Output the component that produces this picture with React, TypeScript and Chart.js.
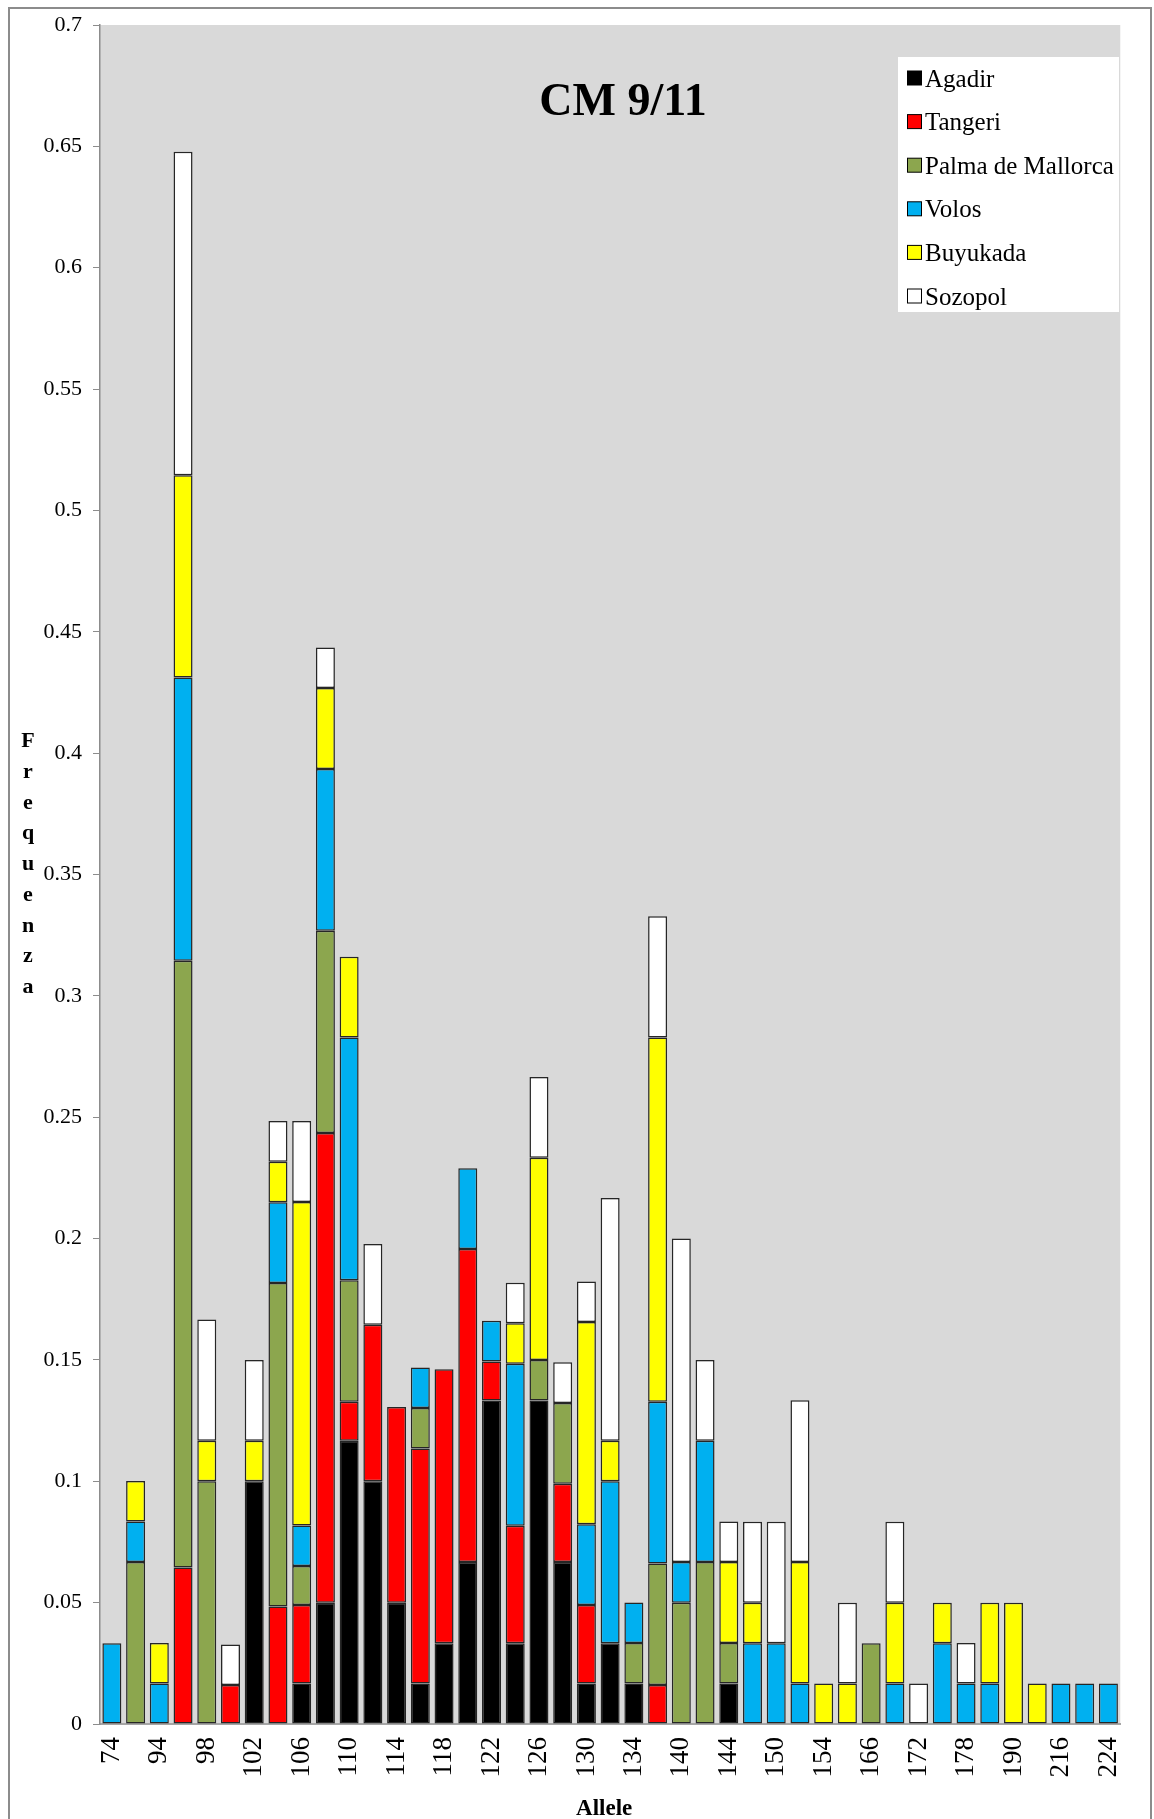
import React, { useEffect, useRef } from 'react';
import { Chart, registerables } from 'chart.js';

Chart.register(...registerables);

const n = null;

// Allele sizes (every other one is labelled on the axis)
const alleles = [
  '74', '92', '94', '96', '98', '100', '102', '104', '106', '108',
  '110', '112', '114', '116', '118', '120', '122', '124', '126', '128',
  '130', '132', '134', '138', '140', '142', '144', '148', '150', '152',
  '154', '160', '166', '170', '172', '176', '178', '186', '190', '200',
  '216', '220', '224',
];

// Allele frequency per population
const agadir = [
  n, n, n, n, n, n, 0.1, n, 0.0167, 0.05,
  0.1167, 0.1, 0.05, 0.0167, 0.0333, 0.0667, 0.1333, 0.0333, 0.1333, 0.0667,
  0.0167, 0.0333, 0.0167, n, n, n, 0.0167, n, n, n,
  n, n, n, n, n, n, n, n, n, n,
  n, n, n,
];
const tangeri = [
  n, n, n, 0.0645, n, 0.0161, n, 0.0484, 0.0323, 0.1935,
  0.0161, 0.0645, 0.0806, 0.0968, 0.1129, 0.129, 0.0161, 0.0484, n, 0.0323,
  0.0323, n, n, 0.0161, n, n, n, n, n, n,
  n, n, n, n, n, n, n, n, n, n,
  n, n, n,
];
const palma = [
  n, 0.0667, n, 0.25, 0.1, n, n, 0.1333, 0.0161, 0.0833,
  0.05, n, n, 0.0167, n, n, n, n, 0.0167, 0.0333,
  n, n, 0.0167, 0.05, 0.05, 0.0667, 0.0167, n, n, n,
  n, n, 0.0333, n, n, n, n, n, n, n,
  n, n, n,
];
const volos = [
  0.0333, 0.0167, 0.0167, 0.1167, n, n, n, 0.0333, 0.0167, 0.0667,
  0.1, n, n, 0.0167, n, 0.0333, 0.0167, 0.0667, n, n,
  0.0333, 0.0667, 0.0167, 0.0667, 0.0167, 0.05, n, 0.0333, 0.0333, 0.0167,
  n, n, n, 0.0167, n, 0.0333, 0.0167, 0.0167, n, n,
  0.0167, 0.0167, 0.0167,
];
const buyukada = [
  n, 0.0167, 0.0167, 0.0833, 0.0167, n, 0.0167, 0.0167, 0.1333, 0.0333,
  0.0333, n, n, n, n, n, n, 0.0167, 0.0833, n,
  0.0833, 0.0167, n, 0.15, n, n, 0.0333, 0.0167, n, 0.05,
  0.0167, 0.0167, n, 0.0333, n, 0.0167, n, 0.0333, 0.05, 0.0167,
  n, n, n,
];
const sozopol = [
  n, n, n, 0.1333, 0.05, 0.0167, 0.0333, 0.0167, 0.0333, 0.0167,
  n, 0.0333, n, n, n, n, n, 0.0167, 0.0333, 0.0167,
  0.0167, 0.1, n, 0.05, 0.1333, 0.0333, 0.0167, 0.0333, 0.05, 0.0667,
  n, 0.0333, n, 0.0333, 0.0167, n, 0.0167, n, n, n,
  n, n, n,
];

const populations = ['Agadir', 'Tangeri', 'Palma de Mallorca', 'Volos', 'Buyukada', 'Sozopol'];
const colors = ['#000000', '#FF0000', '#8CA64E', '#00B0F0', '#FFFF00', '#FFFFFF'];
const series = [agadir, tangeri, palma, volos, buyukada, sozopol];

const SERIF = "'Liberation Serif', 'Times New Roman', serif";
const W = 1154;
const H = 1819;

const decorPlugin = {
  id: 'decor',
  beforeDraw(chart: any) {
    const { ctx, chartArea } = chart;
    ctx.save();
    ctx.fillStyle = '#FFFFFF';
    ctx.fillRect(0, 0, chart.width, chart.height);
    ctx.fillStyle = '#D9D9D9';
    ctx.fillRect(chartArea.left, chartArea.top, chartArea.right - chartArea.left, chartArea.bottom - chartArea.top);
    ctx.restore();
  },
  afterDraw(chart: any) {
    const { ctx, chartArea } = chart;
    ctx.save();

    // outer frame
    ctx.strokeStyle = '#8C8C8C';
    ctx.lineWidth = 2;
    ctx.strokeRect(9, 8, 1142, 1900);

    // chart title
    ctx.fillStyle = '#000';
    ctx.font = `bold 46px ${SERIF}`;
    ctx.textAlign = 'center';
    ctx.textBaseline = 'alphabetic';
    ctx.fillText('CM 9/11', 623, 115);

    // legend box
    const lx = 898;
    const ly = 57;
    ctx.fillStyle = '#FFFFFF';
    ctx.fillRect(lx, ly, 221, 255);
    ctx.font = `25px ${SERIF}`;
    ctx.textAlign = 'left';
    chart.data.datasets.forEach((ds: any, i: number) => {
      const cy = 78 + i * 43.6;
      ctx.fillStyle = ds.backgroundColor;
      ctx.fillRect(907.5, cy - 7, 14, 14);
      ctx.strokeStyle = '#000';
      ctx.lineWidth = 1;
      ctx.strokeRect(907.5, cy - 7, 14, 14);
      ctx.fillStyle = '#000';
      ctx.fillText(ds.label, 925, cy + 8.5);
    });

    // vertical axis title, one letter per line
    ctx.font = `bold 22px ${SERIF}`;
    ctx.textAlign = 'center';
    const word = 'Frequenza';
    for (let i = 0; i < word.length; i++) {
      ctx.fillText(word[i], 28, 747 + i * 30.75);
    }

    // horizontal axis title
    ctx.font = `bold 23px ${SERIF}`;
    ctx.fillText('Allele', (chartArea.left + chartArea.right) / 2 - 6, 1815);

    ctx.restore();
  },
};

export default function App() {
  const canvasRef = useRef<HTMLCanvasElement | null>(null);

  useEffect(() => {
    const canvas = canvasRef.current;
    if (!canvas) return;
    const chart = new Chart(canvas, {
      type: 'bar',
      data: {
        labels: alleles,
        datasets: series.map((values, i) => ({
          label: populations[i],
          data: values,
          backgroundColor: colors[i],
          borderColor: '#262626',
          borderWidth: 1.5,
          borderSkipped: false,
          barPercentage: 0.8,
          categoryPercentage: 1,
        })),
      },
      options: {
        responsive: false,
        animation: false,
        devicePixelRatio: 1,
        layout: { padding: { top: 25, right: 16, bottom: 0, left: 0 } },
        plugins: {
          legend: { display: false },
          title: { display: false },
          tooltip: { enabled: false },
        },
        scales: {
          x: {
            stacked: true,
            grid: { display: true, drawOnChartArea: false, drawTicks: false },
            border: { display: true, color: '#A6A6A6', width: 2 },
            ticks: {
              autoSkip: false,
              minRotation: 90,
              maxRotation: 90,
              padding: 13,
              color: '#000',
              font: { family: SERIF, size: 27 },
              callback: (_v: any, i: number) => (i % 2 === 0 ? alleles[i] : ''),
            },
            afterFit: (s: any) => {
              s.height = 95;
            },
          },
          y: {
            stacked: true,
            min: 0,
            max: 0.7,
            grid: { display: true, drawOnChartArea: false, drawTicks: true, tickLength: 7, color: '#8C8C8C' },
            border: { display: true, color: '#8C8C8C', width: 1.5 },
            ticks: {
              stepSize: 0.05,
              padding: 11,
              color: '#000',
              font: { family: SERIF, size: 22 },
              callback: (v: any) => String(Math.round(Number(v) * 100) / 100),
            },
            afterFit: (s: any) => {
              s.width = 100;
            },
          },
        },
      },
      plugins: [decorPlugin],
    });
    return () => chart.destroy();
  }, []);

  return (
    <div style={{ position: 'fixed', left: 0, top: 0, width: W, height: H, background: '#fff' }}>
      <canvas ref={canvasRef} width={W} height={H} style={{ display: 'block', width: W, height: H }} />
    </div>
  );
}
